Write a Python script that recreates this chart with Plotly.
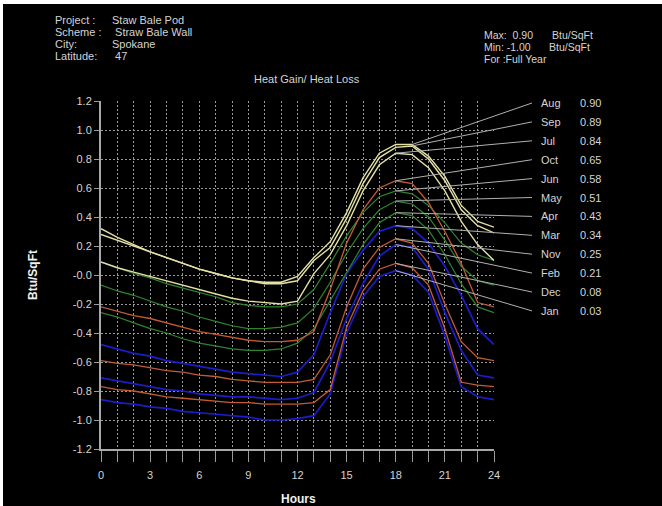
import plotly.graph_objects as go

# ---------------- data ----------------
hours = list(range(25))
months = ["Jan", "Feb", "Mar", "Apr", "May", "Jun", "Jul", "Aug", "Sep", "Oct", "Nov", "Dec"]

jan = [-0.86, -0.88, -0.89, -0.91, -0.92, -0.94, -0.95, -0.96, -0.97, -0.98, -1.00, -1.00, -0.99,
       -0.97, -0.82, -0.40, -0.15, -0.01, 0.03, 0.00, -0.12, -0.42, -0.77, -0.84, -0.86]
feb = [-0.71, -0.73, -0.75, -0.77, -0.79, -0.80, -0.82, -0.83, -0.84, -0.84, -0.85, -0.86, -0.85,
       -0.81, -0.60, -0.30, -0.06, 0.13, 0.21, 0.19, 0.04, -0.26, -0.52, -0.69, -0.71]
mar = [-0.48, -0.51, -0.54, -0.56, -0.59, -0.61, -0.63, -0.65, -0.67, -0.68, -0.69, -0.70, -0.67,
       -0.55, -0.26, 0.01, 0.17, 0.30, 0.34, 0.32, 0.22, 0.06, -0.14, -0.37, -0.48]
apr = [-0.26, -0.29, -0.33, -0.37, -0.40, -0.44, -0.47, -0.49, -0.51, -0.52, -0.52, -0.51, -0.47,
       -0.37, -0.18, 0.02, 0.21, 0.36, 0.43, 0.41, 0.31, 0.14, -0.06, -0.22, -0.26]
may = [-0.07, -0.11, -0.14, -0.18, -0.22, -0.25, -0.29, -0.32, -0.35, -0.37, -0.37, -0.36, -0.33,
       -0.23, -0.05, 0.15, 0.32, 0.45, 0.51, 0.49, 0.40, 0.24, 0.06, -0.04, -0.07]
jun = [0.09, 0.05, 0.01, -0.02, -0.06, -0.09, -0.12, -0.15, -0.19, -0.21, -0.22, -0.22, -0.20,
       -0.10, 0.08, 0.27, 0.43, 0.54, 0.58, 0.56, 0.48, 0.36, 0.22, 0.14, 0.10]
jul = [0.09, 0.05, 0.02, -0.01, -0.04, -0.07, -0.10, -0.13, -0.16, -0.18, -0.19, -0.20, -0.18,
       0.01, 0.14, 0.34, 0.58, 0.76, 0.84, 0.83, 0.74, 0.58, 0.37, 0.21, 0.10]
aug = [0.32, 0.26, 0.21, 0.16, 0.12, 0.08, 0.04, 0.01, -0.02, -0.04, -0.05, -0.05, -0.01,
       0.12, 0.23, 0.43, 0.67, 0.84, 0.90, 0.90, 0.82, 0.68, 0.48, 0.37, 0.33]
sep = [0.28, 0.24, 0.20, 0.16, 0.12, 0.08, 0.04, 0.01, -0.02, -0.04, -0.06, -0.06, -0.04,
       0.10, 0.19, 0.39, 0.63, 0.81, 0.88, 0.89, 0.80, 0.65, 0.45, 0.34, 0.29]
oct_ = [-0.22, -0.25, -0.28, -0.30, -0.33, -0.36, -0.39, -0.41, -0.43, -0.45, -0.46, -0.46, -0.45,
        -0.39, -0.10, 0.22, 0.45, 0.60, 0.65, 0.63, 0.50, 0.30, 0.08, -0.19, -0.22]
nov = [-0.59, -0.61, -0.62, -0.64, -0.66, -0.67, -0.69, -0.70, -0.72, -0.73, -0.74, -0.74, -0.74,
       -0.72, -0.55, -0.22, 0.04, 0.19, 0.25, 0.22, 0.08, -0.20, -0.46, -0.57, -0.59]
dec = [-0.77, -0.79, -0.80, -0.82, -0.84, -0.85, -0.86, -0.87, -0.88, -0.88, -0.89, -0.89, -0.89,
       -0.88, -0.79, -0.36, -0.11, 0.04, 0.08, 0.05, -0.07, -0.37, -0.74, -0.76, -0.77]

series = [jan, feb, mar, apr, may, jun, jul, aug, sep, oct_, nov, dec]

y_tickvals = [1.2, 1.0, 0.8, 0.6, 0.4, 0.2, 0.0, -0.2, -0.4, -0.6, -0.8, -1.0, -1.2]
y_ticktext = ["1.2", "1.0", "0.8", "0.6", "0.4", "0.2", "-0.0", "-0.2", "-0.4", "-0.6", "-0.8", "-1.0", "-1.2"]
x_tickvals = [0, 3, 6, 9, 12, 15, 18, 21, 24]

header_left = [("Project :", "Staw Bale Pod"), ("Scheme :", " Straw Bale Wall"),
               ("City:", "Spokane"), ("Latitude:", " 47")]

# ---------------- styling / geometry ----------------
W, H = 662, 506
L, R, T, B = 101, 40, 101, 57
PW = W - L - R
PH = H - T - B
X_END = 494                      # pixel of hour 24
dom1 = (X_END - L) / PW
x2max = 24 / dom1

def px(x):
    return (x - L) / PW

def py(y):
    return (H - B - y) / PH

quarter_colors = ["#1c1cc8", "#2f852f", "#e4e1a4", "#c25a34"]
quarter_widths = [1.7, 1.2, 1.4, 1.3]
TXT = "#d4d4d4"
GRID = "#9a9a9a"
FONT = "Liberation Sans, Arial, sans-serif"

fig = go.Figure()

for i, (m, vals) in enumerate(zip(months, series)):
    q = i // 3
    fig.add_trace(go.Scatter(x=hours, y=vals, mode="lines", name=m,
                             line=dict(color=quarter_colors[q], width=quarter_widths[q]),
                             showlegend=False, hoverinfo="skip"))

# leader lines to labels (sorted by peak)
peaks = []
for m, vals in zip(months, series):
    mx = max(vals)
    idx = max(k for k, v in enumerate(vals) if v == mx)
    peaks.append((mx, m, hours[idx]))
peaks.sort(key=lambda t: -t[0])

label_x_end = (532 - L) / (X_END - L) * 24
annotations = []

def txt(x, y, s, size=11, anchor="left", color=TXT, angle=0):
    annotations.append(dict(x=px(x), y=py(y), xref="paper", yref="paper", text=s,
                            showarrow=False, xanchor=anchor, yanchor="middle", textangle=angle,
                            font=dict(size=size, color=color, family=FONT)))

for i, (mx, m, h) in enumerate(peaks):
    ypix = 103 + 18.9 * i
    yv = -1.2 + 2.4 * py(ypix)
    fig.add_trace(go.Scatter(x=[h, label_x_end], y=[mx, yv], mode="lines",
                             xaxis="x2", yaxis="y2",
                             line=dict(color="#b0b0b0", width=1),
                             showlegend=False, hoverinfo="skip"))
    txt(539, ypix, m)
    txt(578, ypix, f"{mx:.2f}")

# header texts
for i, (k, v) in enumerate(header_left):
    ypix = 20 + 12 * i
    txt(53, ypix, k)
    txt(110, ypix, v)

all_vals = [v for s in series for v in s]
vmax, vmin = max(all_vals), min(all_vals)
txt(482, 35, f"Max:  {vmax:.2f}", size=10.5)
txt(550, 35, "Btu/SqFt", size=10.5)
txt(482, 47, f"Min: {vmin:.2f}", size=10.5)
txt(547, 47, "Btu/SqFt", size=10.5)
txt(482, 59, "For :Full Year", size=10.5)

txt(252, 79, "Heat Gain/ Heat Loss")
txt(298, 499, "<b>Hours</b>", size=12, anchor="center", color="#f0f0f0")
txt(33, 275, "<b>Btu/SqFt</b>", size=12, anchor="center", color="#f0f0f0", angle=-90)

shapes = [
    dict(type="rect", xref="paper", yref="paper", x0=px(0), x1=px(W), y0=py(4), y1=py(0),
         fillcolor="#ffffff", line=dict(width=0), layer="above"),
    dict(type="rect", xref="paper", yref="paper", x0=px(0), x1=px(3), y0=py(H), y1=py(0),
         fillcolor="#ffffff", line=dict(width=0), layer="above"),
]

fig.update_layout(
    width=W, height=H,
    margin=dict(l=L, r=R, t=T, b=B, pad=0),
    paper_bgcolor="#000000",
    plot_bgcolor="rgba(0,0,0,0)",
    font=dict(family=FONT, color=TXT, size=11),
    showlegend=False,
    hovermode=False,
    annotations=annotations,
    shapes=shapes,
    xaxis=dict(domain=[0, dom1], range=[0, 24], anchor="y",
               tickmode="array", tickvals=x_tickvals, ticktext=[str(v) for v in x_tickvals],
               ticks="outside", ticklen=11, tickwidth=1, tickcolor=GRID,
               ticklabelstandoff=4,
               showline=True, linecolor="#a8a8a8", linewidth=2,
               showgrid=True, gridcolor=GRID, gridwidth=1, griddash="2px,2px",
               zeroline=False,
               tickfont=dict(size=11, color=TXT, family=FONT),
               minor=dict(dtick=1, ticks="outside", ticklen=11, tickwidth=1, tickcolor=GRID,
                          showgrid=True, gridcolor=GRID, gridwidth=1, griddash="2px,2px")),
    yaxis=dict(domain=[0, 1], range=[-1.2, 1.2], anchor="x",
               tickmode="array", tickvals=y_tickvals, ticktext=y_ticktext,
               ticks="outside", ticklen=5, tickwidth=1, tickcolor=GRID,
               showline=True, linecolor="#a8a8a8", linewidth=2,
               showgrid=True, gridcolor=GRID, gridwidth=1, griddash="2px,2px",
               zeroline=False,
               tickfont=dict(size=11, color=TXT, family=FONT)),
    xaxis2=dict(domain=[0, 1], range=[0, x2max], anchor="y2", visible=False,
                showgrid=False, zeroline=False),
    yaxis2=dict(domain=[0, 1], range=[-1.2, 1.2], anchor="x2", visible=False,
                showgrid=False, zeroline=False),
)

fig.write_html("out.html", config={"displayModeBar": False},
               post_script="document.body.style.margin='0px';")
